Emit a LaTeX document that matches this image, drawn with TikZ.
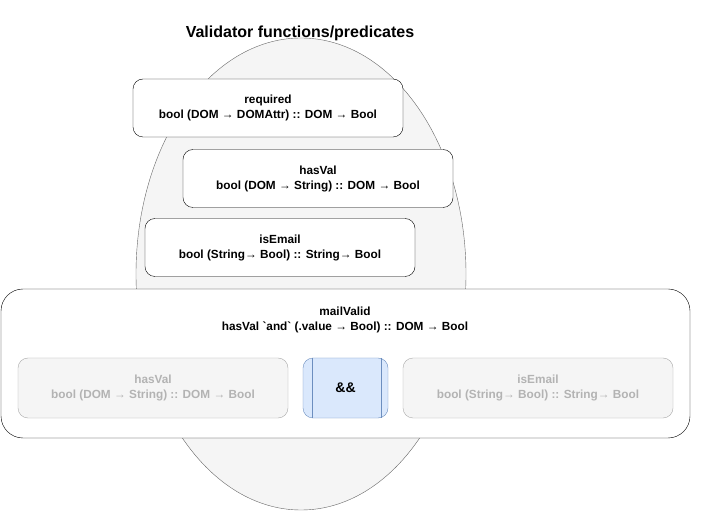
\documentclass[tikz,border=0pt]{standalone}
\usepackage{fontspec}
\setmainfont{Liberation Sans}
\newfontfamily\tickfont{Liberation Sans}[Ligatures=TeXOff]
\usepackage{xcolor}
\usetikzlibrary{calc}
\definecolor{ovalfill}{RGB}{245, 245, 245}
\definecolor{ovalline}{RGB}{102, 102, 102}
\definecolor{dimline}{RGB}{170, 170, 170}
\definecolor{dimtext}{RGB}{179, 179, 179}
\definecolor{andfill}{RGB}{218, 232, 252}
\definecolor{andline}{RGB}{108, 142, 191}
\newcommand{\btick}{{\tickfont\bfseries`}}

\tikzset{
  fnbox/.style={draw=black, fill=white, rounded corners=10pt, align=center,
    minimum width=270pt, minimum height=58pt,
    font=\bfseries\fontsize{11.8}{15}\selectfont},
  dimbox/.style={fnbox, draw=dimline, fill=ovalfill, text=dimtext, minimum height=60pt},
  andbox/.style={draw=andline, fill=andfill, rounded corners=10pt,
    minimum width=85pt, minimum height=60pt, font=\bfseries\fontsize{14}{16}\selectfont}
}

\begin{document}
\begin{tikzpicture}[x=1pt, y=-1pt, line join=round]
			\useasboundingbox (0,0) rectangle (704,518);

			% -- Background oval --
			\draw[ovalline, fill=ovalfill] (301,274) ellipse [x radius=165, y radius=236];
			\node[font=\bfseries\fontsize{16}{18}\selectfont] (title) at (300,33) {Validator functions/predicates};

			% -- Predicates --
			\node[fnbox] (required) at (268,108) {required\\bool (DOM → DOMAttr) :: DOM → Bool};
			\node[fnbox] (hasval) at (318,178.5) {hasVal\\bool (DOM → String) :: DOM → Bool};
			\node[fnbox] (isemail) at (280,247.5) {isEmail\\bool (String→ Bool) :: String→ Bool};

			% -- Composed validator --
			\draw[fill=white, rounded corners=22pt] (1,289) rectangle (690,438);
			\node[font=\bfseries\fontsize{11.8}{15}\selectfont, align=center] (mailvalid) at (345,320)
				{mailValid\\hasVal \btick and\btick{} (.value → Bool) :: DOM → Bool};

			% parts of mailValid
			\node[dimbox] (parthas) at (153,388) {hasVal\\bool (DOM → String) :: DOM → Bool};
			\node[andbox] (amp) at (345.5,388) {\&\&};
			\draw[andline] ($(amp.north west)+(9,0)$) -- ($(amp.south west)+(9,0)$);
			\draw[andline] ($(amp.north east)+(-7,0)$) -- ($(amp.south east)+(-7,0)$);
			\node[dimbox] (partemail) at (538,388) {isEmail\\bool (String→ Bool) :: String→ Bool};

		\end{tikzpicture}
\end{document}
